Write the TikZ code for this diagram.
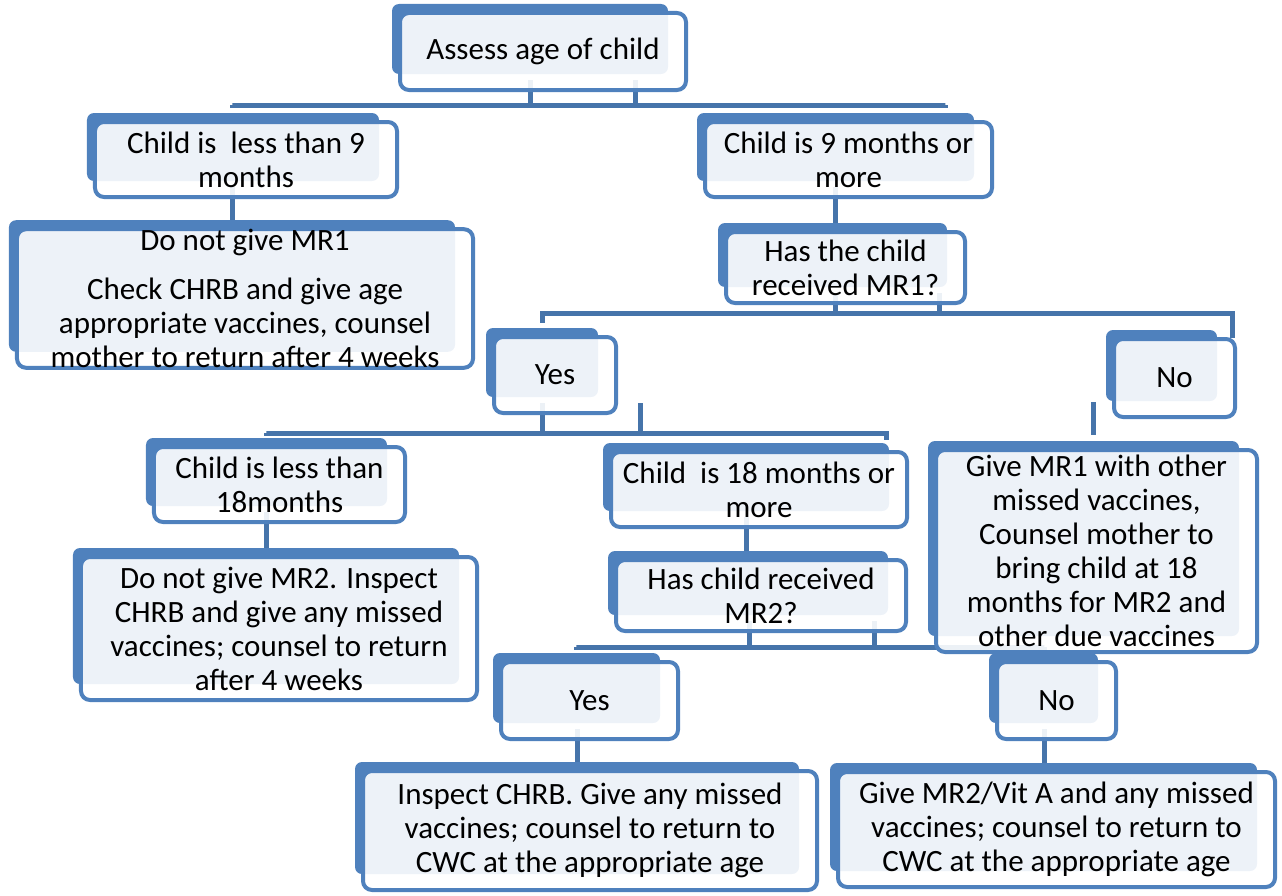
\documentclass[tikz,border=0pt]{standalone}
\usepackage{fontspec}
\setmainfont{Carlito}
\usetikzlibrary{calc}
\definecolor{plate}{RGB}{79,129,189}
\definecolor{linkblue}{RGB}{70,116,170}
\definecolor{ink}{RGB}{0,0,0}
\pgfdeclarelayer{links}
\pgfdeclarelayer{plates}
\pgfsetlayers{links,plates,main}
\tikzset{
    chartbox/.style={
        rectangle,
        draw=plate,
        line width=4bp,
        rounded corners=9bp,
        fill=white,
        fill opacity=0.9,
        text opacity=1,
        text=ink,
        inner sep=0pt,
        outer sep=0pt,
        align=center,
        font=\fontsize{31bp}{34bp}\selectfont
    },
    backplate/.style={
        fill=plate,
        rounded corners=7bp
    },
    treelink/.style={
        draw=linkblue,
        line width=5bp,
        line cap=butt
    }
}

\begin{document}
\begin{tikzpicture}[x=1bp, y=-1bp]
\useasboundingbox (0,0) rectangle (1282,896);

% Boxes
\node[chartbox, minimum width=286bp, minimum height=77bp] (assess) at (543,51.5) {Assess age of child};
\node[chartbox, minimum width=302bp, minimum height=75bp] (lt9) at (246,159.5) {Child is\ \ less than 9\\months};
\node[chartbox, minimum width=287bp, minimum height=75bp] (ge9) at (848.5,159.5) {Child is 9 months or\\more};
\node[chartbox, minimum width=456bp, minimum height=131bp] (nogive1) at (245,298.5) {Do not give MR1\\[15bp]Check CHRB and give age\\appropriate vaccines, counsel\\mother to return after 4 weeks};
\node[chartbox, minimum width=239bp, minimum height=71bp] (hasmr1) at (845.5,267.5) {Has the child\\received MR1?};
\node[chartbox, minimum width=122bp, minimum height=76bp] (yes1) at (555,375) {Yes};
\node[chartbox, minimum width=121bp, minimum height=78bp] (no1) at (1174.5,378) {No};
\node[chartbox, minimum width=251bp, minimum height=75bp] (lt18) at (279.5,484.5) {Child is less than\\18months};
\node[chartbox, minimum width=296bp, minimum height=75bp] (ge18) at (759,489.5) {Child\ \ is 18 months or\\more};
\node[chartbox, minimum width=321bp, minimum height=202bp] (givemr1) at (1096.5,551) {Give MR1 with other\\missed vaccines,\\Counsel mother to\\bring child at 18\\months for MR2 and\\other due vaccines};
\node[chartbox, minimum width=396bp, minimum height=143bp] (nogive2) at (279,628.5) {Do not give MR2. Inspect\\CHRB and give any missed\\vaccines; counsel to return\\after 4 weeks};
\node[chartbox, minimum width=290bp, minimum height=71bp] (hasmr2) at (761,595.5) {Has child received\\MR2?};
\node[chartbox, minimum width=177bp, minimum height=77bp] (yes2) at (589.5,700.5) {Yes};
\node[chartbox, minimum width=119bp, minimum height=77bp] (no2) at (1056.5,700.5) {No};
\node[chartbox, minimum width=454bp, minimum height=119bp] (inspect) at (590,830.5) {Inspect CHRB. Give any missed\\vaccines; counsel to return to\\CWC at the appropriate age};
\node[chartbox, minimum width=437bp, minimum height=115bp] (givemr2) at (1056.5,829.5) {Give MR2/Vit A and any missed\\vaccines; counsel to return to\\CWC at the appropriate age};

% Back plates
\begin{pgfonlayer}{plates}
\foreach \b in {assess,lt9,ge9,nogive1,hasmr1,yes1,no1,lt18,ge18,givemr1,nogive2,hasmr2,yes2,no2,inspect,givemr2}
    \fill[backplate] ([shift={(-8,-9)}]\b.north west) rectangle ([shift={(-18,-16)}]\b.south east);
\end{pgfonlayer}

% Connectors
\begin{pgfonlayer}{links}
\draw[treelink] ([shift={(92,-10)}]assess.south) -- ++(0,25) -| ([shift={(-14,-17)}]lt9.north);
\draw[treelink] ([shift={(-13,-10)}]assess.south) -- ++(0,25) -| ([shift={(96.5,-17)}]ge9.north);
\draw[treelink] ([shift={(-14,-10)}]lt9.south) -- ([shift={(-13,0)}]nogive1.north);
\draw[treelink] ([shift={(-13.5,-10)}]ge9.south) -- ([shift={(-10.5,0)}]hasmr1.north);
\draw[treelink] ([shift={(93.5,-10)}]hasmr1.south) -- ++(0,20) -| ([shift={(-13,-14)}]yes1.north);
\draw[treelink] ([shift={(-10.5,-10)}]hasmr1.south) -- ++(0,20) -| ([shift={(57.5,-1)}]no1.north);
\draw[treelink] ([shift={(-81.5,-15)}]no1.south) -- ([shift={(-3.5,-15)}]givemr1.north);
\draw[treelink] ([shift={(85,-10)}]yes1.south) -- ++(0,30) -| ([shift={(-13.5,-14)}]lt18.north);
\draw[treelink] ([shift={(-13,-10)}]yes1.south) -- ++(0,30) -| ([shift={(127,-12)}]ge18.north);
\draw[treelink] ([shift={(-13.5,-10)}]lt18.south) -- ([shift={(-13,0)}]nogive2.north);
\draw[treelink] ([shift={(-13,-10)}]ge18.south) -- ([shift={(-15,0)}]hasmr2.north);
\draw[treelink] ([shift={(113,-10)}]hasmr2.south) -- ++(0,26) -| ([shift={(-13,-15)}]yes2.north);
\draw[treelink] ([shift={(-11.5,-10)}]hasmr2.south) -- ++(0,26) -| ([shift={(-12,-15)}]no2.north);
\draw[treelink] ([shift={(-12.5,-10)}]yes2.south) -- ([shift={(-13,0)}]inspect.north);
\draw[treelink] ([shift={(-12.5,-10)}]no2.south) -- ([shift={(-12.5,0)}]givemr2.north);
\end{pgfonlayer}

\end{tikzpicture}
\end{document}
